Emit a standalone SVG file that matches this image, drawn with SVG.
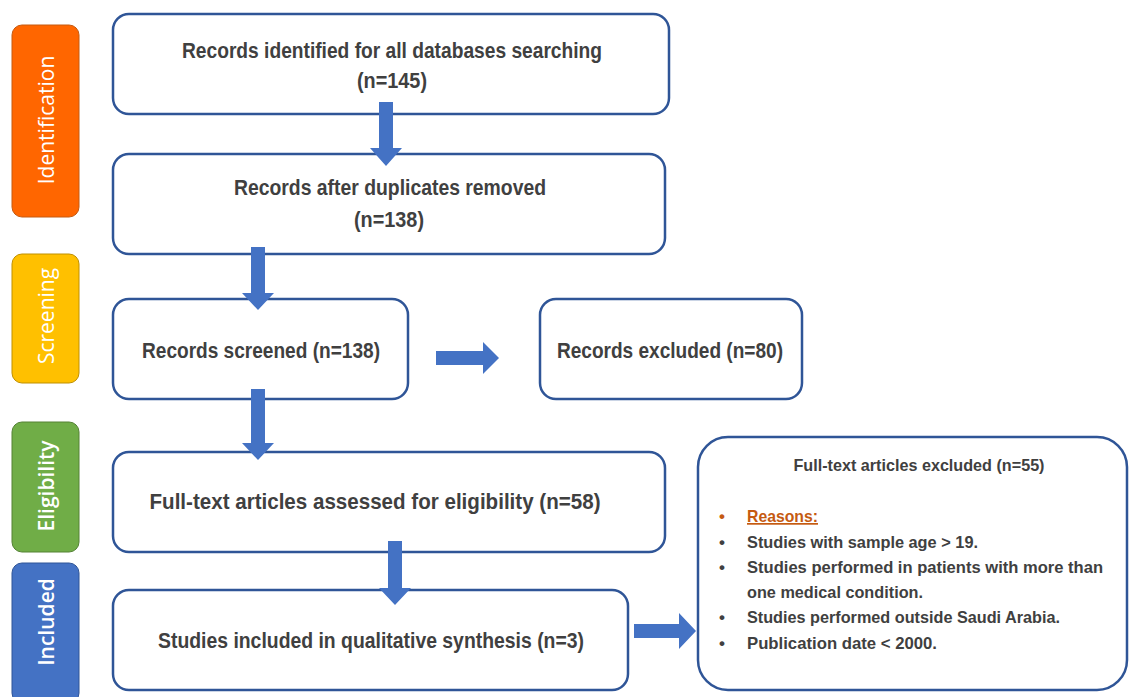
<svg xmlns="http://www.w3.org/2000/svg" width="1129" height="697" viewBox="0 0 1129 697">
<style>
.box{fill:#fff;stroke:#2F5597;stroke-width:2.5}
.t{font-family:"Liberation Sans",Arial,sans-serif;font-weight:bold;font-size:22px;fill:#404040;text-anchor:middle}
.s{font-family:"Liberation Sans",Arial,sans-serif;font-weight:bold;font-size:17px;fill:#404040}
.side{font-family:"Open Sans","Liberation Sans",sans-serif;font-size:21px;fill:#fff;text-anchor:middle;dominant-baseline:central}
.arr{fill:#4472C4}
</style>
<rect width="1129" height="697" fill="#fff"/>
<g id="stage-identification"><rect x="12" y="25" width="67" height="192" rx="10" fill="#FF6600" stroke="#C55A11" stroke-width="1"/><text class="side" transform="translate(46,120) rotate(-90)">Identification</text></g>
<g id="stage-screening"><rect x="12" y="254" width="67" height="129" rx="10" fill="#FFC000" stroke="#BF9000" stroke-width="1"/><text class="side" transform="translate(46,316) rotate(-90)">Screening</text></g>
<g id="stage-eligibility"><rect x="12" y="422" width="67" height="130" rx="10" fill="#70AD47" stroke="#548235" stroke-width="1"/><text class="side" font-weight="600" transform="translate(46,486) rotate(-90)">Eligibility</text></g>
<g id="stage-included"><rect x="12" y="563" width="67" height="140" rx="10" fill="#4472C4" stroke="#2F5597" stroke-width="1"/><text class="side" font-weight="600" transform="translate(46,622) rotate(-90)">Included</text></g>

<g id="n1"><rect class="box" x="113" y="14" width="556" height="100" rx="16"/><text class="t" x="392" y="58" textLength="420" lengthAdjust="spacingAndGlyphs">Records identified for all databases searching</text><text class="t" x="392" y="88" textLength="70" lengthAdjust="spacingAndGlyphs">(n=145)</text></g>
<g id="n2"><rect class="box" x="113" y="154" width="552" height="100" rx="16"/><text class="t" x="390" y="195" textLength="312" lengthAdjust="spacingAndGlyphs">Records after duplicates removed</text><text class="t" x="389" y="227" textLength="70" lengthAdjust="spacingAndGlyphs">(n=138)</text></g>
<g id="n3"><rect class="box" x="113" y="299" width="295" height="100" rx="16"/><text class="t" x="261" y="358" textLength="238" lengthAdjust="spacingAndGlyphs">Records screened (n=138)</text></g>
<g id="n4"><rect class="box" x="540" y="299" width="262" height="100" rx="16"/><text class="t" x="670" y="358" textLength="226" lengthAdjust="spacingAndGlyphs">Records excluded (n=80)</text></g>
<g id="n5"><rect class="box" x="113" y="452" width="552" height="100" rx="16"/><text class="t" x="375" y="509" textLength="451" lengthAdjust="spacingAndGlyphs">Full-text articles assessed for eligibility (n=58)</text></g>
<g id="n6"><rect class="box" x="113" y="590" width="515" height="100" rx="16"/><text class="t" x="371" y="648" textLength="426" lengthAdjust="spacingAndGlyphs">Studies included in qualitative synthesis (n=3)</text></g>
<g id="n7"><rect class="box" x="698" y="437" width="429" height="253" rx="30"/>
<text class="s" x="919" y="471" text-anchor="middle" textLength="251" lengthAdjust="spacingAndGlyphs">Full-text articles excluded (n=55)</text>
<text class="s" x="719" y="522" style="fill:#C55A11">•</text>
<text class="s" x="747" y="522" style="fill:#C55A11" text-decoration="underline" textLength="71" lengthAdjust="spacingAndGlyphs">Reasons:</text>
<text class="s" x="719" y="548">•</text><text class="s" x="747" y="548" textLength="231" lengthAdjust="spacingAndGlyphs">Studies with sample age &gt; 19.</text>
<text class="s" x="719" y="573">•</text><text class="s" x="747" y="573" textLength="356" lengthAdjust="spacingAndGlyphs">Studies performed in patients with more than</text>
<text class="s" x="747" y="598" textLength="176" lengthAdjust="spacingAndGlyphs">one medical condition.</text>
<text class="s" x="719" y="623">•</text><text class="s" x="747" y="623" textLength="313" lengthAdjust="spacingAndGlyphs">Studies performed outside Saudi Arabia.</text>
<text class="s" x="719" y="649">•</text><text class="s" x="747" y="649" textLength="190" lengthAdjust="spacingAndGlyphs">Publication date &lt; 2000.</text>
</g>

<g id="connectors">
<polygon class="arr" points="379,102 393,102 393,148 402,148 386,166 370,148 379,148"/>
<polygon class="arr" points="251,247 265,247 265,293 274,293 258,310 242,293 251,293"/>
<polygon class="arr" points="251,389 265,389 265,443 274,443 258,460 242,443 251,443"/>
<polygon class="arr" points="388,541 402,541 402,588 411,588 395,605 379,588 388,588"/>
<polygon class="arr" points="436,351 483,351 483,342 499,358 483,374 483,365 436,365"/>
<polygon class="arr" points="634,624 679,624 679,613 696,631 679,649 679,638 634,638"/>
</g>
</svg>
